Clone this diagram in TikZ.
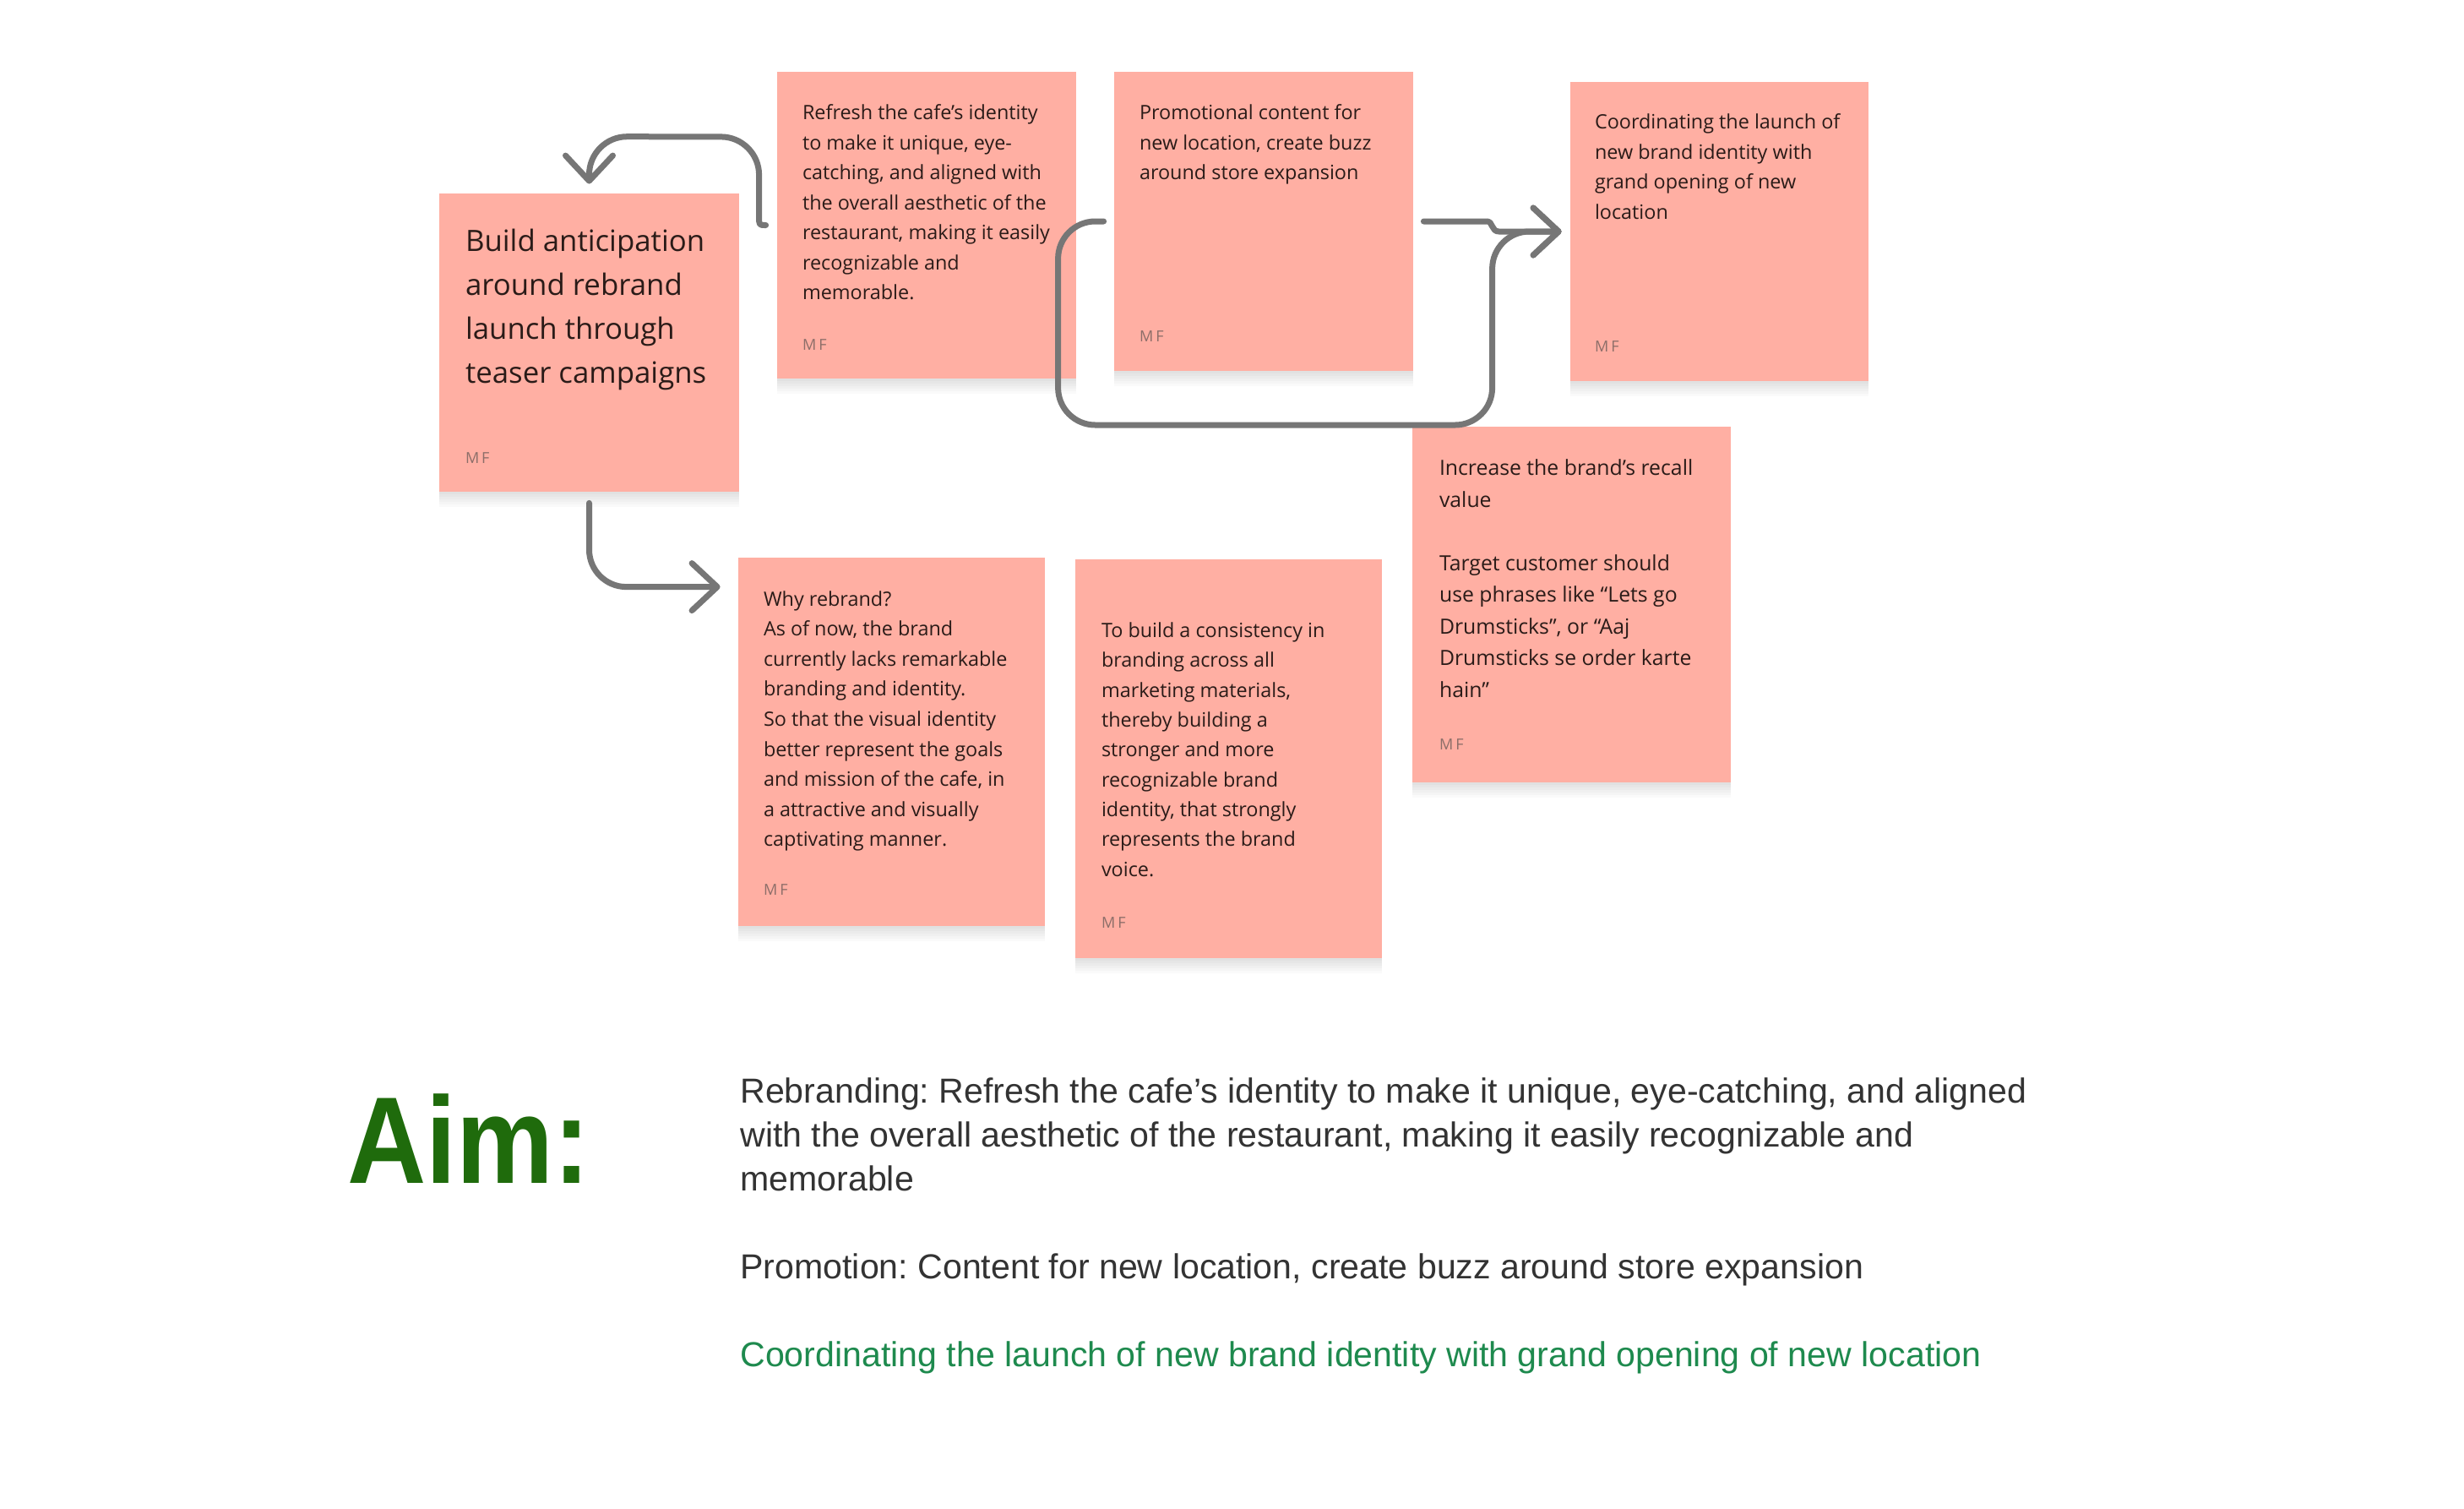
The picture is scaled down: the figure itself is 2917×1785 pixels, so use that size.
\documentclass[tikz,border=0pt]{standalone}
\usepackage{fontspec}
\setmainfont{Open Sans}
\newfontfamily\bodyfont{Liberation Sans}
\usetikzlibrary{arrows.meta,calc}
\definecolor{stickyfill}{HTML}{FFAFA3}
\definecolor{stickytext}{HTML}{2A1B18}
\definecolor{mfgray}{HTML}{8C6E69}
\definecolor{conngray}{HTML}{767676}
\definecolor{bodygray}{HTML}{333333}
\definecolor{aimgreen}{HTML}{1F6B0C}
\definecolor{linegreen}{HTML}{1E8A4E}
\newcommand{\stxt}[4]{\parbox[t]{#1}{\raggedright\fontsize{#2}{#3}\selectfont #4}}
\tikzset{
  shadowlayer/.style={preaction={fill=black, fill opacity=0.02, transform canvas={yshift=#1}}},
  sticky/.style={rectangle, fill=stickyfill, inner sep=0pt,
    shadowlayer=-1.5pt, shadowlayer=-3pt, shadowlayer=-4.5pt, shadowlayer=-6pt, shadowlayer=-7.5pt, shadowlayer=-9pt},
  stext/.style={anchor=base west, inner sep=0pt, text=stickytext},
  mf/.style={anchor=base west, inner sep=0pt, text=mfgray, font=\fontsize{9pt}{10pt}\selectfont},
  conn/.style={draw=conngray, line width=3.5pt, line cap=round, line join=round,
    -{Straight Barb[length=15pt,width=28pt,round]}},
}
\frenchspacing
\begin{document}
\begin{tikzpicture}[x=0.5pt,y=-0.5pt]
\useasboundingbox (0,0) rectangle (2917,1785);
\fill[white] (0,0) rectangle (2917,1785);

% sticky notes
\node[sticky, minimum width=177.5pt, minimum height=176.5pt] (A) at (697.5,405.5) {};
\node[sticky, minimum width=177pt, minimum height=181.5pt] (B) at (1097,266.5) {};
\node[sticky, minimum width=177pt, minimum height=177pt] (C) at (1496,262) {};
\node[sticky, minimum width=176.5pt, minimum height=177pt] (D) at (2035.5,274) {};
\node[sticky, minimum width=188.5pt, minimum height=210.5pt] (E) at (1860.5,715.5) {};
\node[sticky, minimum width=181.5pt, minimum height=218pt] (F) at (1055.5,878) {};
\node[sticky, minimum width=181.5pt, minimum height=236pt] (G) at (1454.5,898) {};

% texts
\node[stext] (tA) at ($(A.north west)+(31,69)$) {\stxt{200pt}{17.4pt}{26pt}{Build anticipation\\around rebrand\\launch through\\teaser campaigns}};
\node[stext] (tB) at ($(B.north west)+(30,57)$) {\stxt{250pt}{11.7pt}{17.75pt}{Refresh the cafe’s identity\\to make it unique, eye-\\catching, and aligned with\\the overall aesthetic of the\\restaurant, making it easily\\recognizable and\\memorable.}};
\node[stext] (tC) at ($(C.north west)+(30,57)$) {\stxt{250pt}{11.7pt}{17.75pt}{Promotional content for\\new location, create buzz\\around store expansion}};
\node[stext] (tD) at ($(D.north west)+(29,56)$) {\stxt{250pt}{11.7pt}{17.75pt}{Coordinating the launch of\\new brand identity with\\grand opening of new\\location}};
\node[stext] (tE) at ($(E.north west)+(32,58)$) {\stxt{250pt}{12.4pt}{18.75pt}{Increase the brand’s recall\\value\\[18.75pt]Target customer should\\use phrases like “Lets go\\Drumsticks”, or “Aaj\\Drumsticks se order karte\\hain”}};
\node[stext] (tF) at ($(F.north west)+(30,57.5)$) {\stxt{250pt}{11.7pt}{17.8pt}{Why rebrand?\\As of now, the brand\\currently lacks remarkable\\branding and identity.\\So that the visual identity\\better represent the goals\\and mission of the cafe, in\\a attractive and visually\\captivating manner.}};
\node[stext] (tG) at ($(G.north west)+(31,93)$) {\stxt{250pt}{11.7pt}{17.65pt}{To build a consistency in\\branding across all\\marketing materials,\\thereby building a\\stronger and more\\recognizable brand\\identity, that strongly\\represents the brand\\voice.}};

\node[mf] (mA) at ($(A.north west)+(31,320)$) {M\,F};
\node[mf] (mB) at ($(B.north west)+(30,330)$) {M\,F};
\node[mf] (mC) at ($(C.north west)+(30,320)$) {M\,F};
\node[mf] (mD) at ($(D.north west)+(29,320)$) {M\,F};
\node[mf] (mE) at ($(E.north west)+(32,383)$) {M\,F};
\node[mf] (mF) at ($(F.north west)+(30,400)$) {M\,F};
\node[mf] (mG) at ($(G.north west)+(31,437)$) {M\,F};

% connectors
\coordinate (c1s) at ($(B.west)+(-13,0)$);
\coordinate (c1e) at ($(A.north)+(0,-11)$);
\draw[conn] (c1s) .. controls ($(c1s)+(-8,0)$) .. ($(c1s)+(-8,-10)$)
  [rounded corners=22.5pt] -- ($(c1s)+(-8,-104.5)$) -- ($(c1e)+(0,-56)$) -- (c1e);

\coordinate (c2s) at ($(A.south)+(0,13)$);
\coordinate (c2e) at ($(F.north west)+(-21,35)$);
\draw[conn, rounded corners=22pt] (c2s) |- (c2e);

\coordinate (c3s) at ($(C.west)+(-12,0)$);
\coordinate (c3e) at ($(D.west)+(-10,0)$);
\draw[conn, rounded corners=22pt] (c3s) -- ++(-54,0) -- ++(0,241) -| ($(c3e)+(-82,0)$) -- (c3e);

\coordinate (c4s) at ($(C.east)+(12,0)$);
\draw[conn] (c4s) -- ($(c4s)+(75,0)$) .. controls ($(c4s)+(82,0)$) and ($(c4s)+(80,12)$) .. ($(c4s)+(89,12)$) -- (c3e);

% bottom text
\node[anchor=base west, inner sep=0pt, text=aimgreen] (aim) at (411,1400) {\scalebox{0.885}[1]{\bodyfont\bfseries\fontsize{73pt}{80pt}\selectfont Aim:}};
\node[anchor=base west, inner sep=0pt, text=bodygray] (aims) at (876,1305) {\parbox[t]{900pt}{\raggedright\bodyfont\fontsize{20.55pt}{26pt}\selectfont Rebranding: Refresh the cafe’s identity to make it unique, eye-catching, and aligned\\with the overall aesthetic of the restaurant, making it easily recognizable and\\memorable\\[26pt]Promotion: Content for new location, create buzz around store expansion\\[26pt]\textcolor{linegreen}{Coordinating the launch of new brand identity with grand opening of new location}}};
\end{tikzpicture}
\end{document}
